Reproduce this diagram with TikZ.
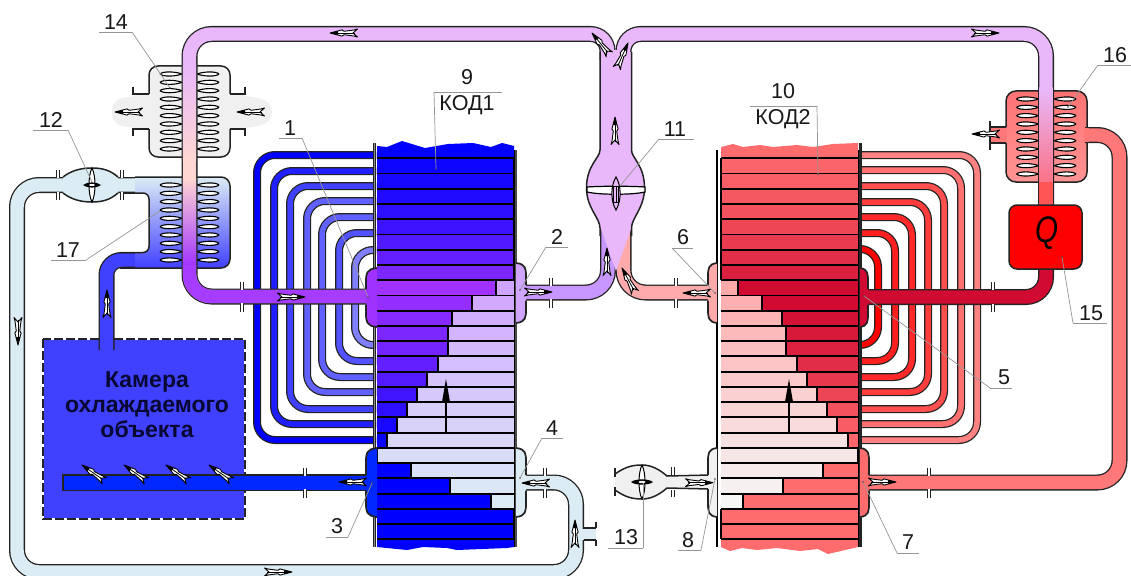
\documentclass[tikz,border=0pt]{standalone}
\usepackage{fontspec}
\setmainfont{Liberation Sans}
\definecolor{coldL}{RGB}{0,0,255}
\definecolor{hotL}{RGB}{160,50,255}
\definecolor{paleA}{RGB}{208,165,255}
\definecolor{ice}{RGB}{220,236,245}
\definecolor{coldR}{RGB}{255,108,110}
\definecolor{hotR}{RGB}{208,10,48}
\definecolor{paleR}{RGB}{255,170,170}
\definecolor{paleW}{RGB}{246,246,246}
\definecolor{lilac}{RGB}{232,184,250}
\definecolor{chamb}{RGB}{64,64,255}
\definecolor{salmon}{RGB}{255,120,120}
\definecolor{wall}{RGB}{35,35,35}
\definecolor{wallg}{RGB}{75,75,75}
\definecolor{ledr}{RGB}{150,150,150}
\definecolor{pgray}{RGB}{240,240,240}
\definecolor{lpurp}{RGB}{200,150,255}
\definecolor{pinkm}{RGB}{255,215,210}
\definecolor{hotp}{RGB}{165,60,255}
\definecolor{endp}{RGB}{250,115,135}
\definecolor{rfill}{RGB}{255,85,85}
\definecolor{exta}{RGB}{255,115,115}
\definecolor{extb}{RGB}{255,148,148}
\definecolor{txtc}{RGB}{8,8,50}
\definecolor{bpipe}{RGB}{0,40,255}
\tikzset{
  pipeo/.style={line width=16,wall,rounded corners=#1},
  pipeo/.default=20,
  tubeo/.style={line width=8,wall,rounded corners=18},
  sep/.style={line width=1.9,black},
  wallst/.style={line width=1.5,wall},
  lensst/.style={line width=1.1,black,fill=white,line join=round},
  ledline/.style={line width=.7,ledr},
  numlab/.style={font=\fontsize{21.5}{24}\selectfont,inner sep=0pt,text=black!90},
}
\newcommand\lens[3]{\begin{scope}[shift={(#1,#3)},xscale=#2]
  \draw[lensst] (0,0) .. controls (3,-2.9) and (15,-2.6) .. (22,0) .. controls (15,2.6) and (3,2.9) .. (0,0);
\end{scope}}
\newcommand\farrow[3]{\begin{scope}[shift={(#1,#2)},rotate=#3]
  \filldraw[fill=white,draw=black,line width=.9,line join=round] (0,0) -- (-12,-3.1) -- (-14,-1.7) -- (-24,-3) -- (-27.5,-4) -- (-23,0) -- (-27.5,4) -- (-24,3) -- (-14,1.7) -- (-12,3.1) -- cycle;
  \draw[line width=.8] (-25,0) -- (-3,0);
  \fill[black] (0,0) -- (-8,-1.9) -- (-8,1.9) -- cycle;
\end{scope}}
\newcommand\flange[2]{\begin{scope}[shift={(#1,#2)}]
  \fill[white] (-.9,-8.6) rectangle (.9,-6.6);
  \fill[white] (-.9,6.6) rectangle (.9,8.6);
  \draw[line width=1.1,wall] (-1.5,-15) -- (-1.5,-7.5) (1.5,-15) -- (1.5,-7.5) (-1.5,15) -- (-1.5,7.5) (1.5,15) -- (1.5,7.5);
\end{scope}}
% colour, wall x, outer x, y top, y bottom, pipe top, pipe bottom
\newcommand\hdr[7]{%
  \fill[#1] (#2,#4) .. controls (#3,#4+1) and (#3,#4+6) .. (#3,#4+14) -- (#3,#5-14) .. controls (#3,#5-6) and (#3,#5-1) .. (#2,#5) -- cycle;
  \draw[line width=1.7,wall] (#2,#4) .. controls (#3,#4+1) and (#3,#4+6) .. (#3,#4+14) -- (#3,#6);
  \draw[line width=1.7,wall] (#3,#7) -- (#3,#5-14) .. controls (#3,#5-6) and (#3,#5-1) .. (#2,#5);
}
% name, text, text x, text y, rule x1, rule x2, rule y, dot x, dot y
\newcommand\lab[9]{%
  \node[numlab] (t#1) at (#3,#4) {#2};
  \coordinate (a#1) at (#5,#7);
  \coordinate (b#1) at (#6,#7);
  \coordinate (d#1) at (#8,#9);
  \draw[ledline] (a#1) -- (b#1);
}
\begin{document}
\begin{tikzpicture}[x=1pt,y=-1pt]
\useasboundingbox (0,0) rectangle (1131,575);
\fill[white] (0,0) rectangle (1131,575);
\clip (0,0) rectangle (1131,575);

% light-blue return loop
\draw[pipeo=22] (152,185) -- (17,185) -- (17,572) -- (576,572) -- (576,482.5) -- (520,482.5);
\draw[line width=13.4,ice,rounded corners=22] (152,185) -- (17,185) -- (17,572) -- (576,572) -- (576,482.5) -- (520,482.5);
% stub at the return loop
\fill[ice] (582,528.5) rectangle (596,539.5);
\draw[wallst] (583.5,528) -- (596,528) (583.5,540) -- (596,540);
\draw[line width=1.3,wall] (596,522) -- (596,528) (596,540) -- (596,546);

% condenser tubes, left
\foreach \yt/\xv/\yb/\pc in {155/257/440/100,171/274/424/88,186/290/409/75,201/307/392/62,217/322/377/62,233/339/361/68,250/355/345/50}{
  \draw[tubeo] (376,\yt) -- (\xv,\yt) -- (\xv,\yb) -- (376,\yb);
  \draw[line width=5.5,blue!\pc!white,rounded corners=18] (376,\yt) -- (\xv,\yt) -- (\xv,\yb) -- (376,\yb);
}
% condenser tubes, right
\foreach \yt/\xv/\yb/\pc in {155/977/440/49,170/961/424/56,186/944/409/69,202/928/392/76,217/912/377/84,233/895/361/88,249/878/345/100}{
  \draw[tubeo] (859,\yt) -- (\xv,\yt) -- (\xv,\yb) -- (859,\yb);
  \draw[line width=5.5,red!\pc!white,rounded corners=18] (859,\yt) -- (\xv,\yt) -- (\xv,\yb) -- (859,\yb);
}

% left column KOD1
\fill[coldL] (377,146) -- (387,147) -- (402,141) -- (425,148) -- (448,144) -- (473,143) -- (491,147) -- (502,143) -- (514,146) -- (514,159) -- (377,159) -- cycle;
\fill[coldL] (377,539) -- (514,539) -- (514,547) -- (507,548) -- (457,550) -- (447,548) -- (423,547) -- (407,550) -- (377,547) -- cycle;
\foreach \k/\s/\p in {0/514/8,1/514/14,2/514/20,3/514/28,4/514/38,5/514/50,6/514/62,7/514/78,8/496/100,9/472/92,10/452/84,11/448/78,12/448/72,13/438/62,14/427/52,15/417/40,16/407/28,17/397/16,18/387/5,19/377/0,20/411/0,21/450/0,22/491/0,23/514/0,24/514/0}{
  \pgfmathsetmacro\ya{158.3+15.24*\k}
  \pgfmathsetmacro\yb{\ya+15.24}
  \pgfmathtruncatemacro\q{max(0,min(100,(\k-8)/14*100))}
  \fill[hotL!\p!coldL] (377,\ya) rectangle (\s,\yb);
  \fill[ice!\q!paleA] (\s,\ya) rectangle (514,\yb);
  \draw[sep] (377,\ya) -- (514,\ya);
  \draw[sep] (\s,\ya) -- (\s,\yb);
}
\draw[sep] (377,539.3) -- (514,539.3);

% right column KOD2
\fill[coldR] (721,147) -- (733,144) -- (743,147) -- (760,145) -- (773,147) -- (797,145) -- (813,147) -- (833,144) -- (858,143) -- (858,159) -- (721,159) -- cycle;
\fill[coldR] (721,539) -- (858,539) -- (858,547) -- (828,554) -- (818,549) -- (800,551) -- (777,548) -- (757,550) -- (742,548) -- (730,551) -- (721,547) -- cycle;
\foreach \k/\s/\p in {0/721/8,1/721/14,2/721/20,3/721/28,4/721/38,5/721/50,6/721/62,7/721/78,8/738/100,9/762/100,10/782/92,11/786/84,12/786/76,13/797/64,14/807/52,15/817/40,16/827/28,17/837/16,18/848/5,19/858/0,20/823/0,21/783/0,22/743/0,23/721/0,24/721/0}{
  \pgfmathsetmacro\ya{158.3+15.24*\k}
  \pgfmathsetmacro\yb{\ya+15.24}
  \pgfmathtruncatemacro\q{max(0,min(100,(\k-8)/14*100))}
  \fill[hotR!\p!coldR] (\s,\ya) rectangle (858,\yb);
  \fill[paleW!\q!paleR] (721,\ya) rectangle (\s,\yb);
  \draw[sep] (721,\ya) -- (858,\ya);
  \draw[sep] (\s,\ya) -- (\s,\yb);
}
\draw[sep] (721,539.3) -- (858,539.3);

% column walls
\draw[line width=3.2,wall] (374.8,143) -- (374.8,547);
\draw[line width=1,black!45] (374.8,143) -- (374.8,547);
\draw[line width=2.8,wallg] (516,150) -- (516,547);
\draw[line width=2.2,black] (717.3,150) -- (717.3,547);
\draw[line width=3,wall] (860.3,143) -- (860.3,547);
\draw[line width=1.1,black] (514.4,150) -- (514.4,547);
\draw[line width=1.1,black] (858.2,150) -- (858.2,547);

% big arrows in columns
\draw[line width=1.6] (446,432) -- (446,395);
\fill (446,379) -- (450,402) -- (442,402) -- cycle;
\draw[line width=1.6] (789,432) -- (789,395);
\fill (789,379) -- (793,402) -- (785,402) -- cycle;

% chamber
\fill[chamb] (43,339) rectangle (245,519);
\draw[line width=1.5,white] (43,339) rectangle (245,519);
\draw[line width=1.5,wall,dash pattern=on 9 off 3] (43,339) rectangle (245,519);
% chamber supply pipe
\draw[pipeo=15] (106.5,350) -- (106.5,260) -- (152,260);
\draw[line width=13.4,chamb,rounded corners=15] (106.5,351) -- (106.5,260) -- (152,260);
% blue evaporator pipe
\filldraw[fill=bpipe,draw=wall,line width=1.2] (63,475) rectangle (368,490.5);

% exchanger 17
\shade[top color=ice,bottom color=chamb] (135,177) [rounded corners=9] -- (230,177) -- (230,268) [sharp corners] -- (135,268) -- (135,252.5) [rounded corners=6] -- (149,252.5) -- (149,193) [sharp corners] -- (135,193) -- cycle;
\draw[wallst,rounded corners=9] (135,177) -- (230,177) -- (230,268) -- (120,268);
\draw[wallst,rounded corners=6] (120,193) -- (149,193) -- (149,252.5) -- (120,252.5);
\foreach \i in {0,...,9}{
  \pgfmathsetmacro\y{185+8.33*\i}
  \lens{160}{1}{\y}
  \lens{219}{-1}{\y}
}

% exchanger 14
\fill[pgray] (112,112) .. controls (112,100) and (120,98) .. (128,97) .. controls (136,96) and (140,94) .. (149,94) -- (149,75) -- (157,66) -- (222,66) -- (230,75) -- (230,94) .. controls (240,94) and (245,96) .. (252,97) .. controls (262,98) and (272,102) .. (272,112) .. controls (272,122) and (262,126) .. (252,127) .. controls (245,128) and (238,130) .. (230,130) -- (230,149) -- (222,157) -- (157,157) -- (149,149) -- (149,130) .. controls (140,130) and (136,128) .. (128,127) .. controls (120,126) and (112,124) .. (112,112) -- cycle;
\draw[wallst,rounded corners=9] (149,94) -- (149,66) -- (230,66) -- (230,94);
\draw[wallst,rounded corners=9] (149,129) -- (149,157) -- (230,157) -- (230,129);
\draw[wallst] (133,87) -- (133,94) -- (149,94) (133,136) -- (133,129) -- (149,129) (245,87) -- (245,94) -- (230,94) (245,136) -- (245,129) -- (230,129);
\foreach \i in {0,...,9}{
  \pgfmathsetmacro\y{74+8.33*\i}
  \lens{160}{1}{\y}
  \lens{219}{-1}{\y}
}

% exchanger 16
\shade[top color=exta,bottom color=extb,rounded corners=10] (1006,91) rectangle (1087,182);
\fill[salmon] (990,127.7) rectangle (1007,142.3);
\draw[pipeo=22] (1085,135) -- (1119.5,135) -- (1119.5,482.5) -- (867,482.5);
\draw[line width=13.4,salmon,rounded corners=22] (1084,135) -- (1119.5,135) -- (1119.5,482.5) -- (866,482.5);
\draw[wallst,rounded corners=10] (1006,127) -- (1006,91) -- (1087,91) -- (1087,127);
\draw[wallst,rounded corners=10] (1006,143) -- (1006,182) -- (1087,182) -- (1087,143);
\fill[salmon] (1085,127.7) rectangle (1089,142.3);
\draw[wallst] (990,127) -- (1006,127) (990,143) -- (1006,143);
\draw[line width=1.3,wall] (990,121) -- (990,150);
\foreach \i in {0,...,9}{
  \pgfmathsetmacro\y{99+8.33*\i}
  \lens{1016.5}{1}{\y}
  \lens{1076}{-1}{\y}
}

% lower part of the central pipes
\draw[pipeo=22] (520,292.5) -- (608,292.5) -- (608,228);
\draw[line width=13.4,lpurp,rounded corners=22] (520,292.5) -- (608,292.5) -- (608,228);
\draw[pipeo=22] (715,292.5) -- (623.5,292.5) -- (623.5,228);
\draw[line width=13.4,paleR,rounded corners=22] (715,292.5) -- (623.5,292.5) -- (623.5,228);

% hot gas pipe, KOD1 side
\draw[pipeo=22] (372,296.5) -- (189.5,296.5) -- (189.5,34) [rounded corners=17] -- (607.5,34) -- (607.5,60);
\draw[line width=13.4,lilac,rounded corners=22] (372,296.5) -- (189.5,296.5) -- (189.5,34) [rounded corners=17] -- (607.5,34) -- (607.5,60);
\shade[top color=lilac,bottom color=pinkm] (182.8,66) rectangle (196.2,160);
\fill[pinkm] (182.8,160) rectangle (196.2,178);
\shade[top color=pinkm,bottom color=hotL] (182.8,178) rectangle (196.2,266);
\draw[line width=13.4,hotp,rounded corners=22] (372,296.5) -- (189.5,296.5) -- (189.5,265);

% hot gas pipe, KOD2 side
\draw[pipeo=17] (623.5,60) -- (623.5,34) [rounded corners=22] -- (1046,34) -- (1046,206);
\draw[line width=13.4,lilac,rounded corners=17] (623.5,60) -- (623.5,34) [rounded corners=22] -- (1046,34) -- (1046,206);
\shade[top color=lilac,bottom color=endp] (1039.3,88) rectangle (1052.7,182);
\fill[rfill] (1039.3,182) rectangle (1052.7,206);

% crimson pipe from Q
\draw[pipeo=20] (1046,266) -- (1046,297) -- (866,297);
\draw[line width=13.4,hotR,rounded corners=20] (1046,266) -- (1046,297) -- (865,297);

% central pipe with bulb
\fill[lilac] (600.6,52) -- (600.6,150) .. controls (600.6,158) and (587,165) .. (587,188) .. controls (587,208) and (600.6,218) .. (600.6,228) -- (616,271) -- (631.4,228) .. controls (631.4,218) and (644,208) .. (644,188) .. controls (644,165) and (631.4,158) .. (631.4,150) -- (631.4,52) -- (615.7,50) -- cycle;
\draw[wallst] (600,52) -- (600,150) .. controls (600,158) and (586.5,165) .. (586.5,188) .. controls (586.5,208) and (600,218) .. (600,228) -- (600,236);
\draw[wallst] (631.5,52) -- (631.5,150) .. controls (631.5,158) and (644.5,165) .. (644.5,188) .. controls (644.5,208) and (631.5,218) .. (631.5,228) -- (631.5,236);

% valve 11
\filldraw[fill=white,draw=black,line width=1.2] (587,187) .. controls (600,186) and (632,186) .. (645,187) -- (645,192) .. controls (632,195) and (600,195) .. (587,192) -- cycle;
\filldraw[fill=lilac,draw=black,line width=1] (616,177) .. controls (621,185) and (622,200) .. (616,210) .. controls (610,200) and (611,185) .. (616,177) -- cycle;
\draw[line width=1] (613.5,186) rectangle (618.5,202);
\draw[line width=1] (616,186) -- (616,202);

% valve 12
\fill[ice] (63,177) .. controls (72,170) and (82,168) .. (92,168) .. controls (102,168) and (110,170) .. (118,177) -- (118,193) .. controls (110,200) and (102,202) .. (92,202) .. controls (82,202) and (72,200) .. (63,193) -- cycle;
\draw[wallst] (63,177) .. controls (72,170) and (82,168) .. (92,168) .. controls (102,168) and (110,170) .. (118,177);
\draw[wallst] (63,193) .. controls (72,200) and (82,202) .. (92,202) .. controls (102,202) and (110,200) .. (118,193);
\filldraw[fill=white,draw=black,line width=1] (92,168) .. controls (96,176) and (96,194) .. (92,202) .. controls (88,194) and (88,176) .. (92,168) -- cycle;
\fill[black] (83,185) .. controls (87,181.5) and (97,181.5) .. (101,185) .. controls (97,188.5) and (87,188.5) .. (83,185) -- cycle;
\fill[white] (92,185) ellipse (3 and 1);
\flange{58}{185}
\flange{122}{185}

% valve 13 with its pipe
\fill[pgray] (615,474) .. controls (625,467) and (632,465) .. (642,465) .. controls (652,465) and (660,470) .. (667,476) -- (710,475.5) -- (710,488.5) -- (667,488) .. controls (660,494) and (652,499) .. (642,499) .. controls (632,499) and (625,497) .. (615,490) -- cycle;
\draw[wallst] (615,474) .. controls (625,467) and (632,465) .. (642,465) .. controls (652,465) and (660,470) .. (667,476) -- (710,475);
\draw[wallst] (615,490) .. controls (625,497) and (632,499) .. (642,499) .. controls (652,499) and (660,494) .. (667,488) -- (710,489);
\draw[line width=1.2,wall] (615,468) -- (615,477) (615,487) -- (615,496);
\filldraw[fill=white,draw=black,line width=1] (642,465) .. controls (646,473) and (646,491) .. (642,499) .. controls (638,491) and (638,473) .. (642,465) -- cycle;
\fill[black] (631,482) .. controls (635,478.5) and (649,478.5) .. (653,482) .. controls (649,485.5) and (635,485.5) .. (631,482) -- cycle;
\fill[pgray] (642,482) ellipse (3.5 and 1.2);
\flange{673}{482}

% Q box
\filldraw[fill=red,draw=wall,line width=1.5,rounded corners=8] (1009,205) rectangle (1082,269);
\node[inner sep=0pt,transform shape,xscale=.8,font=\fontsize{37}{40}\selectfont\itshape] (qn) at (1046.5,233) {Q};

% headers
\hdr{hotL}{377}{366}{268}{327}{289}{304.5}
\hdr{paleA}{516}{526}{263}{323}{285}{300.5}
\hdr{bpipe}{377}{366}{448}{517}{475}{490.5}
\hdr{ice}{516}{526}{448}{517}{475}{490.5}
\hdr{hotR}{860}{868}{268}{327}{289}{305}
\hdr{paleR}{717}{708}{263}{323}{285}{300.5}
\hdr{coldR}{860}{869}{448}{517}{475}{490.5}
\hdr{pgray}{717}{708}{448}{517}{475}{489}

% flanges
\flange{242}{296.5}
\flange{551}{292.5}
\flange{676}{292.5}
\flange{305}{482.5}
\flange{545}{482.5}
\flange{929}{482.5}
\flange{993}{297}

% chamber text
\node[align=center,inner sep=0pt,font=\fontsize{23}{25}\selectfont\bfseries,text=txtc] (chtxt) at (147,405) {Камера\\охлаждаемого\\объекта};

% flow arrows
\farrow{330}{33}{180}
\farrow{592}{33}{129}
\farrow{628}{43}{66}
\farrow{615}{117}{90}
\farrow{999}{33}{0}
\farrow{552}{292}{0}
\farrow{607}{248}{90}
\farrow{622}{268}{118}
\farrow{683}{293}{180}
\farrow{896}{482}{0}
\farrow{713}{482.7}{0}
\farrow{522}{483}{180}
\farrow{339}{482}{180}
\farrow{305}{297}{0}
\farrow{575}{520}{90}
\farrow{292}{572}{0}
\farrow{18}{345}{-90}
\farrow{107}{290}{90}
\farrow{82}{465}{145}
\farrow{124}{465}{145}
\farrow{166}{465}{145}
\farrow{209}{465}{145}
\farrow{115}{112}{180}
\farrow{237}{112}{180}
\farrow{972}{134}{180}

% labels and leaders
\lab{14}{14}{116}{22}{99}{132}{32}{170}{88}
\draw[ledline] (b14) -- (d14); \fill[black!70] (d14) circle (.8);
\lab{12}{12}{51}{120}{33}{68}{130}{92}{182}
\draw[ledline] (b12) -- (d12);
\lab{1}{1}{290}{128}{279}{302}{138}{368}{297}
\draw[ledline] (b1) -- (d1); \fill[black!70] (d1) circle (.8);
\lab{17}{17}{68}{250}{51}{86}{260}{160}{211}
\draw[ledline] (b17) -- (d17);
\lab{2}{2}{557}{237}{546}{568}{247}{520}{290}
\draw[ledline] (a2) -- (d2); \fill[black!70] (d2) circle (.8);
\lab{3}{3}{337}{526}{326}{348}{537}{372}{483}
\draw[ledline] (b3) -- (d3); \fill[black!70] (d3) circle (.8);
\lab{4}{4}{552}{428}{542}{563}{438}{520}{478}
\draw[ledline] (a4) -- (d4); \fill[black!70] (d4) circle (.8);
\lab{9}{9}{467}{77}{434}{502}{92}{436}{169}
\draw[ledline] (a9) -- (d9); \fill[black!70] (d9) circle (.8);
\node[numlab] (kod1) at (467,105) {КОД1};
\lab{10}{10}{783}{91}{750}{817}{106}{818}{174}
\draw[ledline] (b10) -- (d10); \fill[black!70] (d10) circle (.8);
\node[numlab] (kod2) at (783,119) {КОД2};
\lab{11}{11}{675}{129}{659}{694}{139}{620}{186}
\draw[ledline] (a11) -- (d11);
\lab{6}{6}{683}{237}{672}{693}{248}{715}{293}
\draw[ledline] (a6) -- (d6); \fill[black!70] (d6) circle (.8);
\lab{5}{5}{1004}{377}{990}{1012}{388}{864}{296}
\draw[ledline] (a5) -- (d5); \fill[black!70] (d5) circle (.8);
\lab{7}{7}{908}{542}{897}{919}{553}{863}{482}
\draw[ledline] (a7) -- (d7); \fill[black!70] (d7) circle (.8);
\lab{8}{8}{688}{540}{678}{701}{550}{715}{479}
\draw[ledline] (b8) -- (d8); \fill[black!70] (d8) circle (.8);
\lab{13}{13}{626}{537}{608}{643}{548}{643}{483}
\draw[ledline] (b13) -- (d13);
\lab{15}{15}{1091}{313}{1073}{1107}{323}{1062}{257}
\draw[ledline] (a15) -- (d15); \fill[black!70] (d15) circle (.8);
\lab{16}{16}{1115}{55}{1098}{1131}{65}{1068}{107}
\draw[ledline] (a16) -- (d16); \fill[black!70] (d16) circle (.8);
\end{tikzpicture}
\end{document}
